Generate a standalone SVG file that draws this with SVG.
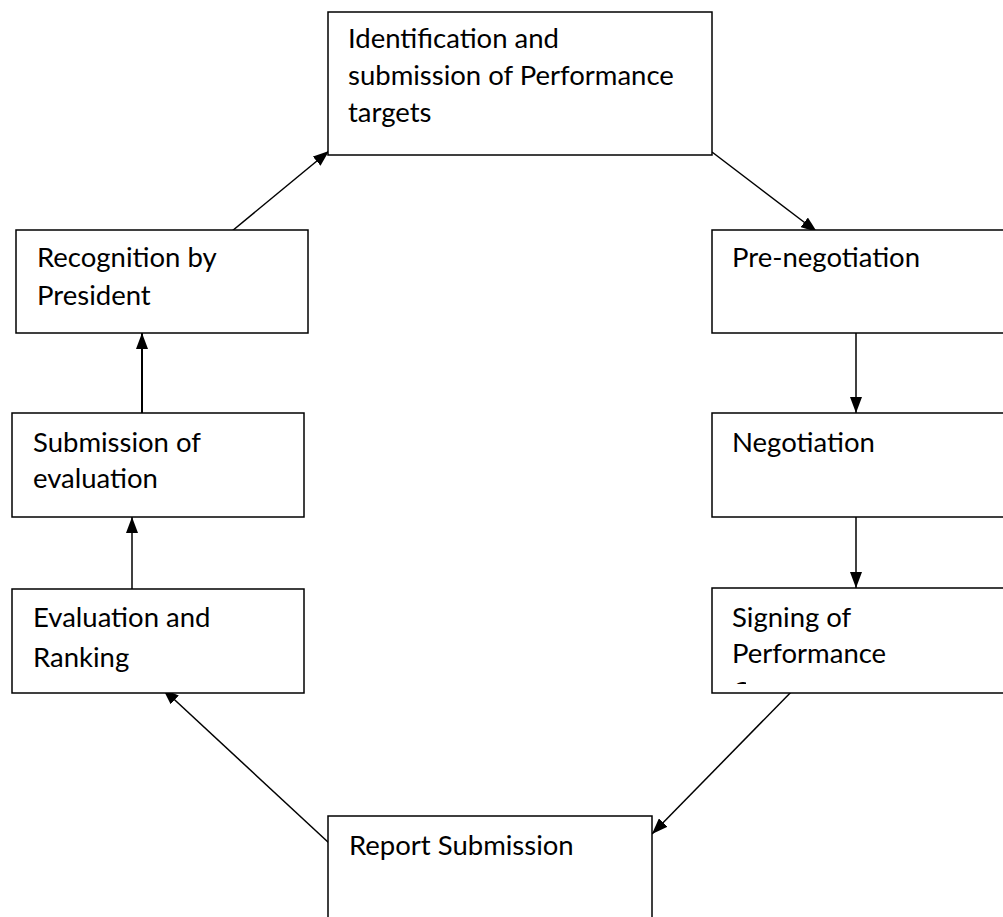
<svg xmlns="http://www.w3.org/2000/svg" width="1003" height="917" viewBox="0 0 1003 917">
<defs>
<style>
.box{fill:#fff;stroke:#000;stroke-width:1.5}
.t{font-family:Lato,"Open Sans",sans-serif;font-size:27.5px;fill:#000}
.c{stroke:#000;stroke-width:1.5;fill:none;marker-end:url(#ah)}
.c2{stroke:#000;stroke-width:2;fill:none;marker-end:url(#ah)}
</style>
<marker id="ah" viewBox="0 0 16 12" refX="16" refY="6" markerWidth="16" markerHeight="12" markerUnits="userSpaceOnUse" orient="auto">
<path d="M0,0 L16,6 L0,12 Z" fill="#000"/>
</marker>
<clipPath id="clipSign"><rect x="732" y="670" width="14" height="14"/></clipPath>
</defs>
<rect width="1003" height="917" fill="#fff"/>
<g id="connectors">
<line class="c" x1="712" y1="152" x2="817" y2="232"/>
<line class="c" x1="856" y1="333" x2="856" y2="413"/>
<line class="c" x1="856" y1="517" x2="856" y2="588"/>
<line class="c" x1="797" y1="686" x2="652" y2="834"/>
<line class="c" x1="329" y1="843" x2="163" y2="689"/>
<line class="c" x1="132" y1="589" x2="132" y2="517"/>
<line class="c2" x1="142" y1="418" x2="142" y2="333"/>
<line class="c" x1="226" y1="236" x2="329" y2="151"/>
</g>
<g id="n1">
<rect class="box" x="328" y="12" width="384" height="143"/>
<text class="t" x="348" y="48">Identification and</text>
<text class="t" x="348" y="85">submission of Performance</text>
<text class="t" x="348" y="122">targets</text>
</g>
<g id="n2">
<rect class="box" x="712" y="230" width="300" height="103"/>
<text class="t" x="732" y="267">Pre-negotiation</text>
</g>
<g id="n3">
<rect class="box" x="712" y="413" width="300" height="104"/>
<text class="t" x="732" y="452">Negotiation</text>
</g>
<g id="n4">
<rect class="box" x="712" y="588" width="300" height="105"/>
<text class="t" x="732" y="627">Signing of</text>
<text class="t" x="732" y="663">Performance</text>
<text class="t" x="732" y="701" clip-path="url(#clipSign)">Contract</text>
</g>
<g id="n5">
<rect class="box" x="328" y="816" width="324" height="120"/>
<text class="t" x="349" y="855">Report Submission</text>
</g>
<g id="n6">
<rect class="box" x="12" y="589" width="292" height="104"/>
<text class="t" x="33" y="627">Evaluation and</text>
<text class="t" x="33" y="667">Ranking</text>
</g>
<g id="n7">
<rect class="box" x="12" y="413" width="292" height="104"/>
<text class="t" x="33" y="452">Submission of</text>
<text class="t" x="33" y="488">evaluation</text>
</g>
<g id="n8">
<rect class="box" x="16" y="230" width="292" height="103"/>
<text class="t" x="37" y="267">Recognition by</text>
<text class="t" x="37" y="305">President</text>
</g>
</svg>
